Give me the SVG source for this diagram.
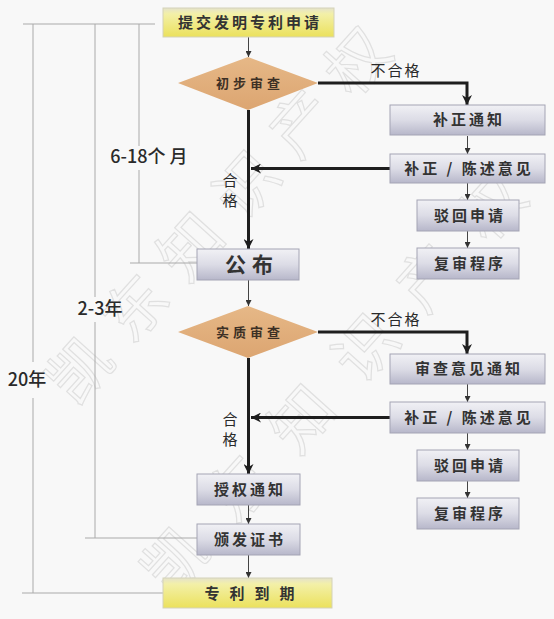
<svg xmlns="http://www.w3.org/2000/svg" width="554" height="619" viewBox="0 0 554 619">
<defs>
<linearGradient id="gBox" x1="0" y1="0" x2="0" y2="1">
<stop offset="0" stop-color="#f1f1f5"/>
<stop offset="0.5" stop-color="#dcdce6"/>
<stop offset="1" stop-color="#b7b7ca"/>
</linearGradient>
<linearGradient id="gYel" x1="0" y1="0" x2="0" y2="1">
<stop offset="0" stop-color="#e4e2cc"/>
<stop offset="0.2" stop-color="#f3f0a8"/>
<stop offset="1" stop-color="#ebe15c"/>
</linearGradient>
<linearGradient id="gDia" x1="0" y1="0" x2="0" y2="1">
<stop offset="0" stop-color="#e6b887"/>
<stop offset="1" stop-color="#dca571"/>
</linearGradient>
<marker id="aS" viewBox="0 0 10 10" refX="10" refY="5" markerWidth="6" markerHeight="6" markerUnits="userSpaceOnUse" orient="auto">
<path d="M0,0 L10,5 L0,10 Z" fill="#333"/>
</marker>
<marker id="aB" viewBox="0 0 10 10" refX="10" refY="5" markerWidth="11" markerHeight="10" markerUnits="userSpaceOnUse" orient="auto">
<path d="M0,0 L10,5 L0,10 L3,5 Z" fill="#1e1e1e"/>
</marker>
</defs>
<style>
.box{fill:url(#gBox);stroke:#a4a4b4;stroke-width:1}
.yel{fill:url(#gYel);stroke:#d4d2b8;stroke-width:1}
.dia{fill:url(#gDia);stroke:none}
.t{font-family:"Noto Sans CJK SC","Noto Sans",sans-serif;font-weight:700;fill:#333;text-anchor:middle}
.tb{font-size:15px;letter-spacing:3px}
.td{font-size:13px;letter-spacing:4px;fill:#3d3025}
.lbl{font-family:"Noto Sans CJK SC","Noto Sans",sans-serif;font-size:15px;fill:#2a2a2a;text-anchor:middle}
.dur{font-family:"Noto Sans CJK SC","DejaVu Sans",sans-serif;font-size:18px;font-weight:500;fill:#2a2a2a;text-anchor:middle}
.thin{stroke:#444;stroke-width:1;fill:none}
.thick{stroke:#1e1e1e;stroke-width:3;fill:none}
.guide{stroke:#aaa;stroke-width:1;fill:none}
.wm{font-family:"Noto Sans CJK SC",sans-serif;font-size:62px;fill:none;stroke:#e0e0e0;stroke-width:1.2}
</style>
<rect x="0" y="0" width="554" height="619" fill="#f8f8f8"/>
<g id="watermark">
<text class="wm" style="letter-spacing:21px" transform="translate(75.6,407.7) rotate(-48)">凯东知识产权</text>
<text class="wm" style="letter-spacing:33px" transform="translate(170.6,597.7) rotate(-48)">凯东知识产权</text>
</g>
<g id="durations">
<path class="guide" d="M23,24 H155 M33,24 V362 M33,398 V593 M22,593 H163 M95,24 V297 M95,322 V538 M85,538 H197 M139,24 V146 M139,170 V263 M130,263 H197"/>
<text class="dur" x="149" y="163">6-18个 月</text>
<text class="dur" x="100" y="315">2-3年</text>
<text class="dur" x="27" y="386">20年</text>
</g>
<g id="connectors">
<path class="thin" d="M248.5,37 V57" marker-end="url(#aS)"/>
<path class="thick" d="M318,83 H467 V105" marker-end="url(#aB)"/>
<path class="thick" d="M248.5,110 V249" marker-end="url(#aB)"/>
<path class="thin" d="M467.5,136 V154" marker-end="url(#aS)"/>
<path class="thick" d="M390,168.5 H251" marker-end="url(#aB)"/>
<path class="thin" d="M467.5,183 V200" marker-end="url(#aS)"/>
<path class="thin" d="M467.5,231 V248" marker-end="url(#aS)"/>
<path class="thin" d="M248.5,280 V306" marker-end="url(#aS)"/>
<path class="thick" d="M318,332 H467 V354" marker-end="url(#aB)"/>
<path class="thick" d="M248.5,358 V474" marker-end="url(#aB)"/>
<path class="thin" d="M467.5,384 V402" marker-end="url(#aS)"/>
<path class="thick" d="M390,417.5 H251" marker-end="url(#aB)"/>
<path class="thin" d="M467.5,433 V450" marker-end="url(#aS)"/>
<path class="thin" d="M467.5,481 V498" marker-end="url(#aS)"/>
<path class="thin" d="M248.5,505 V524" marker-end="url(#aS)"/>
<path class="thin" d="M248.5,555 V578" marker-end="url(#aS)"/>
<text class="lbl" x="396" y="76" letter-spacing="2">不合格</text>
<text class="lbl" x="396" y="325" letter-spacing="2">不合格</text>
<text class="lbl" x="230" y="186">合</text>
<text class="lbl" x="230" y="206">格</text>
<text class="lbl" x="230" y="425">合</text>
<text class="lbl" x="230" y="445">格</text>
</g>
<g id="n-submit">
<rect class="yel" x="163" y="8" width="171" height="29"/>
<text class="t tb" x="250" y="28">提交发明专利申请</text>
</g>
<g id="n-prelim">
<polygon class="dia" points="248,57 318,83 248,110 178,83"/>
<text class="t td" x="250" y="88">初步审查</text>
</g>
<g id="n-notice1">
<rect class="box" x="390" y="105" width="155" height="30"/>
<text class="t tb" x="469" y="125">补正通知</text>
</g>
<g id="n-reply1">
<rect class="box" x="390" y="154" width="155" height="29"/>
<text class="t tb" x="469" y="174">补正 / 陈述意见</text>
</g>
<g id="n-reject1">
<rect class="box" x="417" y="200" width="102" height="31"/>
<text class="t tb" x="470" y="221">驳回申请</text>
</g>
<g id="n-review1">
<rect class="box" x="417" y="248" width="102" height="31"/>
<text class="t tb" x="470" y="269">复审程序</text>
</g>
<g id="n-publish">
<rect class="box" x="197" y="249" width="102" height="31"/>
<text class="t" x="252" y="272" style="font-size:21px;letter-spacing:6px">公布</text>
</g>
<g id="n-substantive">
<polygon class="dia" points="248,306 318,332 248,358 178,332"/>
<text class="t td" x="250" y="337">实质审查</text>
</g>
<g id="n-notice2">
<rect class="box" x="390" y="354" width="155" height="30"/>
<text class="t tb" x="469" y="374">审查意见通知</text>
</g>
<g id="n-reply2">
<rect class="box" x="390" y="402" width="155" height="31"/>
<text class="t tb" x="469" y="423">补正 / 陈述意见</text>
</g>
<g id="n-reject2">
<rect class="box" x="417" y="450" width="102" height="31"/>
<text class="t tb" x="470" y="471">驳回申请</text>
</g>
<g id="n-review2">
<rect class="box" x="417" y="498" width="102" height="31"/>
<text class="t tb" x="470" y="519">复审程序</text>
</g>
<g id="n-grant">
<rect class="box" x="197" y="474" width="103" height="31"/>
<text class="t tb" x="250" y="495">授权通知</text>
</g>
<g id="n-cert">
<rect class="box" x="197" y="524" width="103" height="31"/>
<text class="t tb" x="250" y="545">颁发证书</text>
</g>
<g id="n-expire">
<rect class="yel" x="163" y="578" width="169" height="30"/>
<text class="t tb" x="254.5" y="599" style="letter-spacing:10px">专利到期</text>
</g>
</svg>
